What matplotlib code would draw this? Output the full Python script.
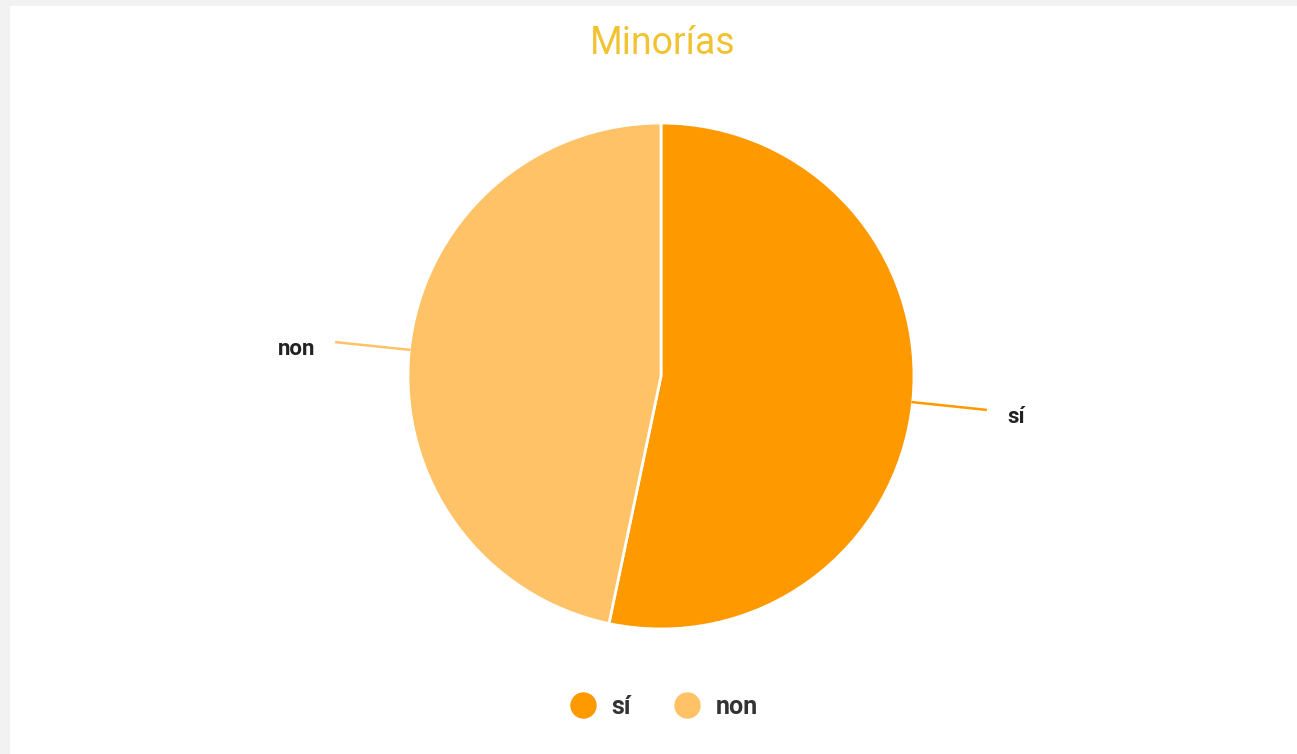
import numpy as np
import matplotlib
matplotlib.use("Agg")
from matplotlib import pyplot as plt
from matplotlib.lines import Line2D
from matplotlib.patches import Rectangle

labels = ["sí", "non"]
values = [53.3, 46.7]
colors = ["#ff9900", "#ffc266"]
title = "Minorías"

plt.rcParams['font.family'] = ['Roboto', 'DejaVu Sans']

W, H = 1297, 754
fig = plt.figure(figsize=(W / 100, H / 100), dpi=100)
fig.patch.set_facecolor("#f2f2f2")
fig.patches.append(Rectangle((10 / W, 0), 1, (H - 6) / H, transform=fig.transFigure,
                             facecolor="white", edgecolor="none", zorder=-10))

cx, cy, r = 661, H - 376, 253
ax = fig.add_axes([(cx - r) / W, (cy - r) / H, 2 * r / W, 2 * r / H])
ax.set_zorder(5)
wedges, _ = ax.pie(values, colors=colors, startangle=90, counterclock=False,
                   wedgeprops=dict(edgecolor="white", linewidth=2))
ax.set_xlim(-1, 1)
ax.set_ylim(-1, 1)
ax.axis('off')

# leader lines and labels
for w, lab, col in zip(wedges, labels, colors):
    mid = np.deg2rad((w.theta1 + w.theta2) / 2)
    x0, y0 = np.cos(mid), np.sin(mid)
    ax.plot([x0, 1.29 * x0], [y0, 1.29 * y0], color=col, lw=1.8, clip_on=False)
    side = np.sign(x0)
    ax.text(1.375 * x0, 1.29 * y0 - 0.027, lab, ha="left" if side > 0 else "right",
            va="center", fontsize=16, fontweight="bold", color="#222222")

fig.text((cx + 2) / W, 1 - 43 / H, title, ha="center", va="center", fontsize=27,
         color="#f1c232")

handles = [Line2D([], [], marker="o", ls="none", markersize=18, markerfacecolor=c,
                  markeredgecolor=c) for c in colors]
fig.legend(handles, labels, loc="center", bbox_to_anchor=((cx - 3) / W, 47 / H), ncol=2,
           frameon=False, handletextpad=0.14, columnspacing=1.25,
           prop=dict(size=18, weight="bold"), labelcolor="#333333")

fig.savefig("out.png", dpi=100, facecolor=fig.get_facecolor())
